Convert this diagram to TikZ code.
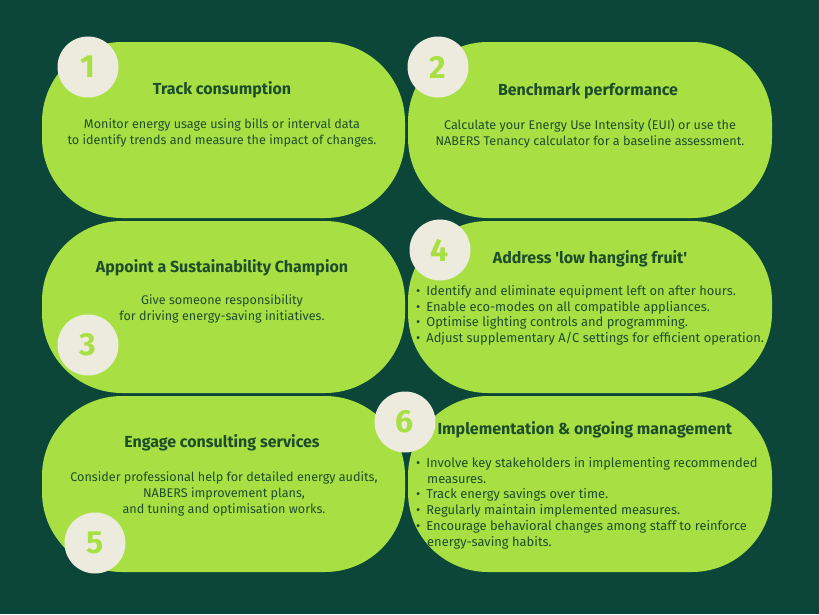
\documentclass[tikz,border=0pt]{standalone}
\usepackage{fontspec}
\setmainfont{Fira Sans}
\definecolor{bg}{HTML}{0B4638}
\definecolor{lime}{HTML}{A8E043}
\definecolor{cream}{HTML}{EDEBDD}
\definecolor{ink}{HTML}{1E4D2B}
\begin{document}
\begin{tikzpicture}[x=1pt,y=-1pt,
 panel/.style={fill=lime,rounded corners=80pt},
 num/.style={circle,fill=cream,minimum size=61pt,inner sep=0pt,text=lime,font=\fontsize{32}{32}\selectfont\bfseries},
 ttl/.style={text=ink,font=\fontsize{16}{18}\selectfont\bfseries},
 body/.style={text=ink,font=\fontsize{12.6}{16}\selectfont,align=center},
 blist/.style={text=ink,font=\fontsize{12.9}{15.8}\selectfont,align=left,anchor=north west,inner sep=0pt}]
\fill[bg] (0,0) rectangle (819,614);
\useasboundingbox (0,0) rectangle (819,614);
\fill[panel] (42,42) rectangle (405,218);
\fill[panel] (408,42) rectangle (772,218);
\fill[panel] (42,221) rectangle (405,393);
\fill[panel] (408,221) rectangle (772,393);
\fill[panel] (42,396) rectangle (405,572);
\fill[panel] (408,396) rectangle (772,572);
\node[num] (n1) at (88,67) {1};
\node[num] (n2) at (438,67) {2};
\node[num] (n3) at (88,345) {3};
\node[num] (n4) at (440,250) {4};
\node[num] (n5) at (95,543) {5};
\node[num] (n6) at (405,422) {6};
\node[ttl] (t1) at (222,90) {Track consumption};
\node[body] (b1) at (222,133) {Monitor energy usage using bills or interval data\\to identify trends and measure the impact of changes.};
\node[ttl] (t2) at (588,91) {Benchmark performance};
\node[body] (b2) at (590,134) {Calculate your Energy Use Intensity (EUI) or use the\\NABERS Tenancy calculator for a baseline assessment.};
\node[ttl] (t3) at (222,268) {Appoint a Sustainability Champion};
\node[body] (b3) at (222,309) {Give someone responsibility\\for driving energy-saving initiatives.};
\node[ttl] (t4) at (590,259) {Address \textquotesingle low hanging fruit\textquotesingle};
\node[blist] (b4) at (416,285) {%
\textbullet\hspace{6pt}Identify and eliminate equipment left on after hours.\\
\textbullet\hspace{6pt}Enable eco-modes on all compatible appliances.\\
\textbullet\hspace{6pt}Optimise lighting controls and programming.\\
\textbullet\hspace{6pt}Adjust supplementary A/C settings for efficient operation.};
\node[ttl,anchor=west] (t6) at (434,430) {Implementation \& ongoing management};
\node[ttl] (t5) at (222,443) {Engage consulting services};
\node[body] (b5) at (224,494) {Consider professional help for detailed energy audits,\\NABERS improvement plans,\\and tuning and optimisation works.};
\node[blist] (b6) at (416,457) {%
\textbullet\hspace{6pt}Involve key stakeholders in implementing recommended\\
\hspace*{11pt}measures.\\
\textbullet\hspace{6pt}Track energy savings over time.\\
\textbullet\hspace{6pt}Regularly maintain implemented measures.\\
\textbullet\hspace{6pt}Encourage behavioral changes among staff to reinforce\\
\hspace*{11pt}energy-saving habits.};
\end{tikzpicture}
\end{document}
